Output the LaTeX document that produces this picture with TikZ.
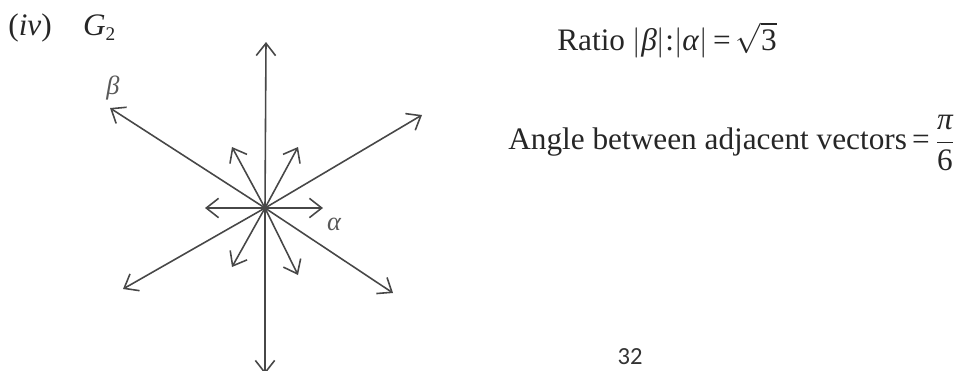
\documentclass[tikz,border=0pt]{standalone}
\usepackage[no-math]{fontspec}
\setmainfont{Liberation Serif}
\newfontfamily\pagefont{Carlito}
\usepackage{amsmath,amssymb}
\usetikzlibrary{arrows.meta,positioning}

\begin{document}
\begin{tikzpicture}[
  x=0.02cm, y=-0.02cm,
  root/.style={-{Straight Barb[length=7pt,width=11pt,line width=0.9pt]}, line width=0.9pt, draw=black!72},
  lbl/.style={font=\fontsize{15}{17}\selectfont\itshape, inner sep=0pt, text=black!65},
  txt/.style={font=\fontsize{17.8}{21}\selectfont, inner sep=0pt, anchor=west, text=black!85},
]
\useasboundingbox (0,0) rectangle (978,370);

% ---- origin and tips of the twelve roots ----
\coordinate (O) at (265,208);
\foreach \nm/\px/\py in {lu/266/42, ld/265/374, lur/422/115, lul/110/108,
                         lll/123/289, llr/393/293,
                         sa/323/208, sl/205/208, sul/232/147, sur/298/147,
                         sll/232/267, slr/298/275}{
  \coordinate (\nm) at (\px,\py);
}

% long roots
\foreach \nm in {lu,ld,lur,lul,lll,llr}{\draw[root] (O) -- (\nm);}
% short roots
\foreach \nm in {sa,sl,sul,sur,sll,slr}{\draw[root] (O) -- (\nm);}

% ---- labels ----
\node[lbl] (beta) at (113,88) {β};
\node[lbl] (alpha) at (334,224) {α};
\node[txt] (title) at (8,28) {(\textit{iv})\quad\textit{G}\raisebox{-0.35ex}{\fontsize{11}{13}\selectfont 2}};

\node[txt] (ratio) at (557,40) {Ratio $\lvert$\textit{β}$\rvert$:$\lvert$\textit{α}$\rvert$\,=\,$\sqrt{\text{3}}$};
\node[txt] (angle) at (508,143) {Angle between adjacent vectors\,=\,$\dfrac{\text{\itshape π}}{\text{6}}$};

\node[font=\pagefont\fontsize{14}{16}\selectfont, text=black!80] (page) at (630,357) {32};
\end{tikzpicture}
\end{document}
